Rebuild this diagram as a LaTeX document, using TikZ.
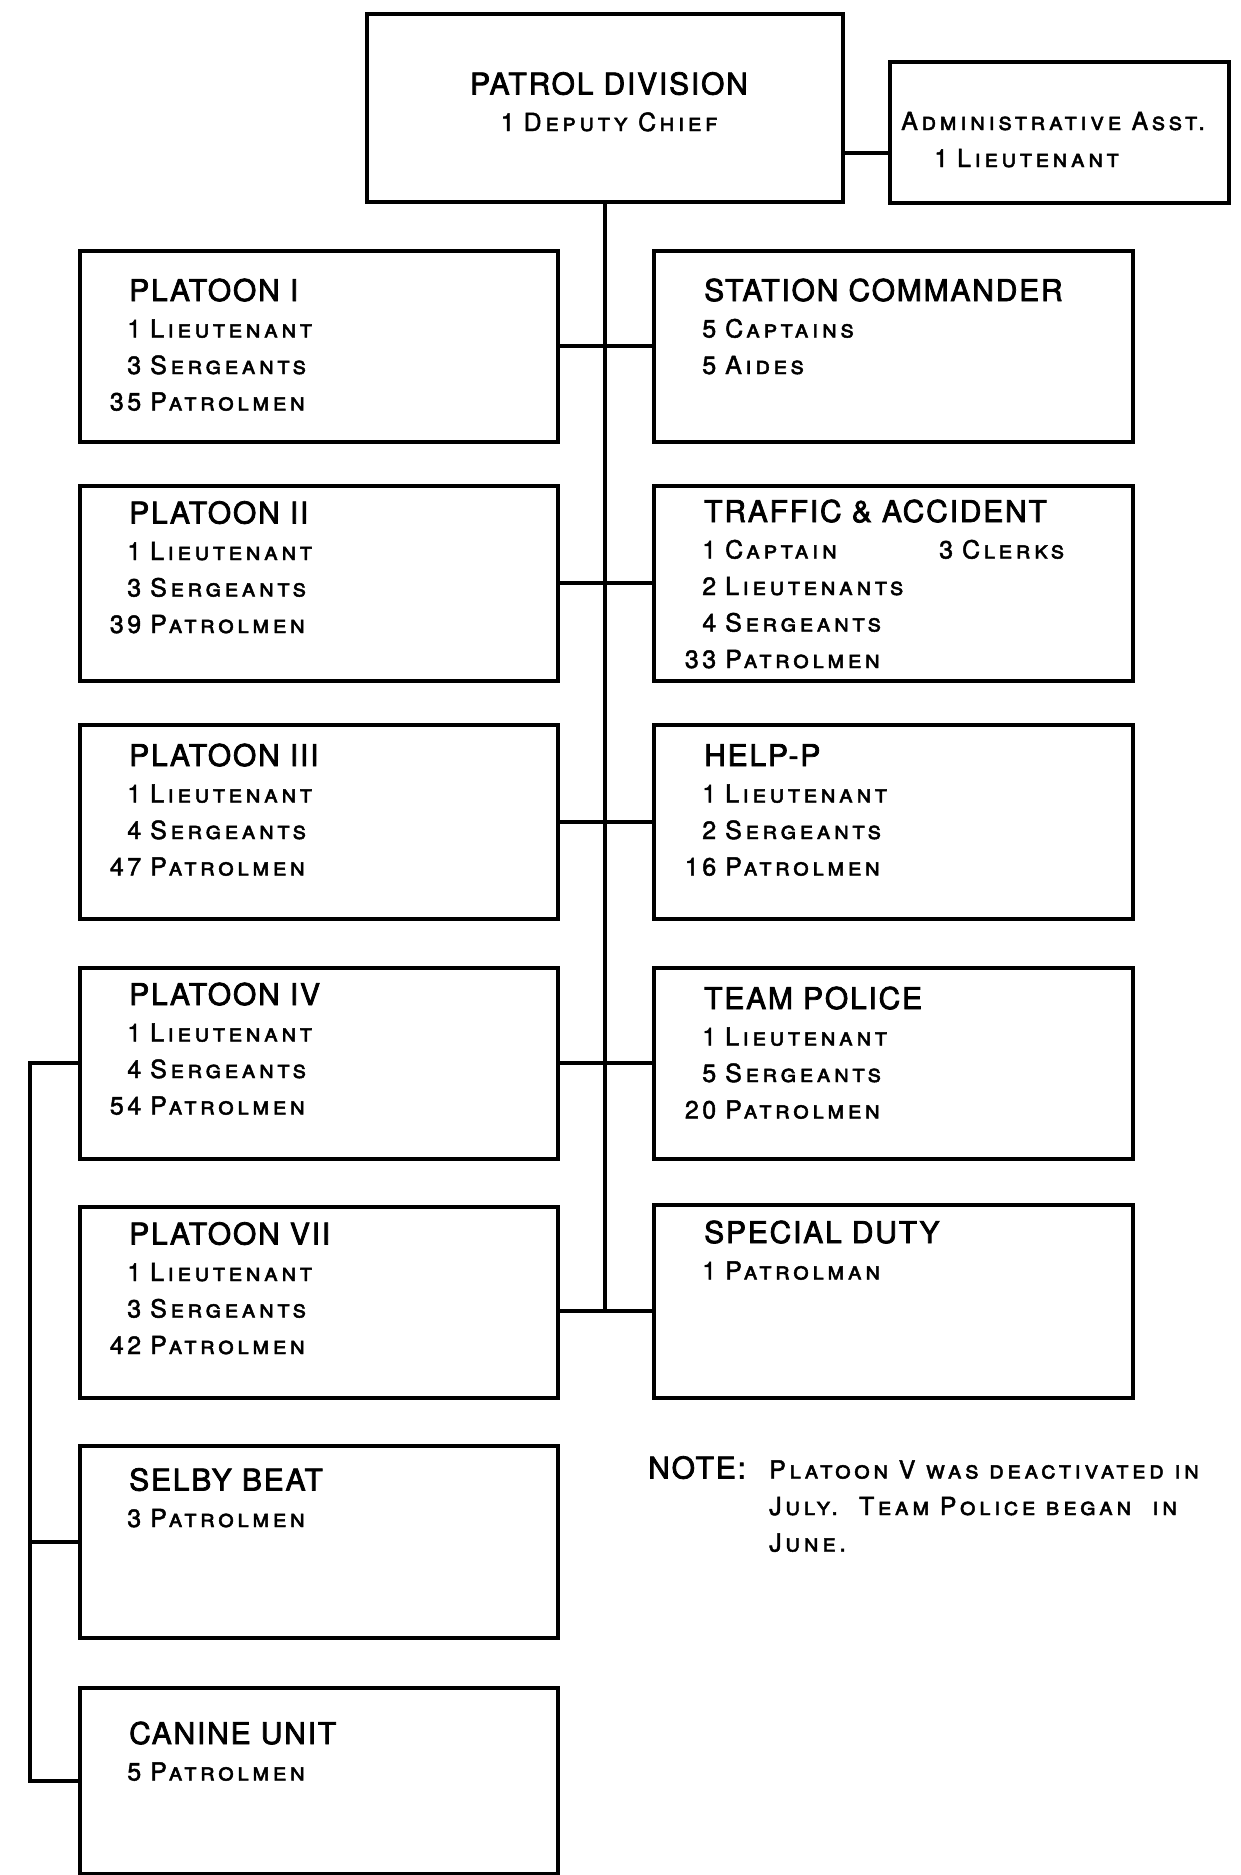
\documentclass[tikz,border=0pt]{standalone}
\usepackage{fontspec}
\setmainfont{TeX Gyre Heros}
\newfontfamily\titlefont[LetterSpace=6,FakeBold=2.5]{TeX Gyre Heros}
\newfontfamily\scfont[LetterSpace=14,FakeBold=1.8]{TeX Gyre Heros}
\newcommand\ttl[1]{{\fontsize{30}{36.5}\selectfont\titlefont #1}}
\newcommand\nm[1]{\makebox[21pt][r]{#1\hspace{9pt}}}
\newcommand\bodyfont{\fontsize{25}{36.5}\selectfont\scfont\scshape}
\begin{document}
\begin{tikzpicture}[x=1pt,y=-1pt,
  box/.style={draw,line width=3.6pt,inner sep=0pt,anchor=north west,minimum width=#1},
  box/.default=478,
  txt/.style={inner sep=0pt,anchor=base west,font=\bodyfont},
  conn/.style={line width=4pt}]
\useasboundingbox (0,0) rectangle (1241,1875);
% top boxes
\node[box=476,minimum height=188] (pd) at (365,12) {};
\node[box=339,minimum height=141] (adm) at (888,60) {};
% left column
\node[box,minimum height=191] (p1) at (78,249) {};
\node[box,minimum height=195] (p2) at (78,484) {};
\node[box,minimum height=194] (p3) at (78,723) {};
\node[box,minimum height=191] (p4) at (78,966) {};
\node[box,minimum height=191] (p7) at (78,1205) {};
\node[box,minimum height=192] (sel) at (78,1444) {};
\node[box,minimum height=186] (can) at (78,1686) {};
% right column
\node[box=479,minimum height=191] (sc) at (652,249) {};
\node[box=479,minimum height=195] (ta) at (652,484) {};
\node[box=479,minimum height=194] (hp) at (652,723) {};
\node[box=479,minimum height=191] (tp) at (652,966) {};
\node[box=479,minimum height=193] (sd) at (652,1203) {};
% texts
\node[txt,anchor=base] (pdt) at (609,94.5) {\begin{tabular}[t]{@{}c@{}}\ttl{PATROL DIVISION}\\ 1\hspace{9pt}Deputy Chief\end{tabular}};
\node[txt] (admt) at (901,130) {\begin{tabular}[t]{@{}l@{}}Administrative Asst.\\[0.5pt] \hspace*{33pt}1\hspace{9pt}Lieutenant\end{tabular}};
\node[txt] (p1t) at ([shift={(51,52)}]p1.north west) {\begin{tabular}[t]{@{}l@{}}\ttl{PLATOON I}\\ \nm{1}Lieutenant\\ \nm{3}Sergeants\\ \nm{35}Patrolmen\end{tabular}};
\node[txt] (p2t) at ([shift={(51,39.5)}]p2.north west) {\begin{tabular}[t]{@{}l@{}}\ttl{PLATOON II}\\ \nm{1}Lieutenant\\ \nm{3}Sergeants\\ \nm{39}Patrolmen\end{tabular}};
\node[txt] (p3t) at ([shift={(51,43)}]p3.north west) {\begin{tabular}[t]{@{}l@{}}\ttl{PLATOON III}\\ \nm{1}Lieutenant\\ \nm{4}Sergeants\\ \nm{47}Patrolmen\end{tabular}};
\node[txt] (p4t) at ([shift={(51,39)}]p4.north west) {\begin{tabular}[t]{@{}l@{}}\ttl{PLATOON IV}\\ \nm{1}Lieutenant\\ \nm{4}Sergeants\\ \nm{54}Patrolmen\end{tabular}};
\node[txt] (p7t) at ([shift={(51,39.5)}]p7.north west) {\begin{tabular}[t]{@{}l@{}}\ttl{PLATOON VII}\\ \nm{1}Lieutenant\\ \nm{3}Sergeants\\ \nm{42}Patrolmen\end{tabular}};
\node[txt] (selt) at ([shift={(51,46.5)}]sel.north west) {\begin{tabular}[t]{@{}l@{}}\ttl{SELBY BEAT}\\ \nm{3}Patrolmen\end{tabular}};
\node[txt] (cant) at ([shift={(51,58)}]can.north west) {\begin{tabular}[t]{@{}l@{}}\ttl{CANINE UNIT}\\ \nm{5}Patrolmen\end{tabular}};
\node[txt] (sct) at ([shift={(52,52)}]sc.north west) {\begin{tabular}[t]{@{}l@{}}\ttl{STATION COMMANDER}\\ \nm{5}Captains\\ \nm{5}Aides\end{tabular}};
\node[txt] (tat) at ([shift={(52,38)}]ta.north west) {\begin{tabular}[t]{@{}l@{}}\ttl{TRAFFIC \& ACCIDENT}\\ \nm{1}\makebox[214pt][l]{Captain}3\hspace{9pt}Clerks\\ \nm{2}Lieutenants\\ \nm{4}Sergeants\\ \nm{33}Patrolmen\end{tabular}};
\node[txt] (hpt) at ([shift={(52,43)}]hp.north west) {\begin{tabular}[t]{@{}l@{}}\ttl{HELP-P}\\ \nm{1}Lieutenant\\ \nm{2}Sergeants\\ \nm{16}Patrolmen\end{tabular}};
\node[txt] (tpt) at ([shift={(52,43)}]tp.north west) {\begin{tabular}[t]{@{}l@{}}\ttl{TEAM POLICE}\\ \nm{1}Lieutenant\\ \nm{5}Sergeants\\ \nm{20}Patrolmen\end{tabular}};
\node[txt] (sdt) at ([shift={(52,40)}]sd.north west) {\begin{tabular}[t]{@{}l@{}}\ttl{SPECIAL DUTY}\\ \nm{1}Patrolman\end{tabular}};
\node[txt] (note) at (648,1478.5) {\begin{tabular}[t]{@{}l@{}}\makebox[121pt][l]{\ttl{NOTE:}}Platoon V was deactivated in\\ \hspace*{121pt}July.\ \ Team Police began\ \ in\\ \hspace*{121pt}June.\end{tabular}};
% connectors
\coordinate (bus) at (30,0);
\draw[conn] (pd.east |- 0,153) -- (adm.west |- 0,153);
\draw[conn] (pd.south) -- (pd.south |- 0,1309);
\draw[conn] (p1.east) -- (sc.west);
\draw[conn] (p2.east) -- (ta.west);
\draw[conn] (p3.east) -- (hp.west);
\draw[conn] (p4.east) -- (tp.west);
\draw[conn] ([yshift=-9pt]p7.east) -- ([yshift=-9pt]sd.west |- p7.east);
\draw[conn] (p4.west) -- (bus |- p4.west) -- (bus |- can.west) -- (can.west);
\draw[conn] (bus |- sel.west) -- (sel.west);
\end{tikzpicture}
\end{document}
